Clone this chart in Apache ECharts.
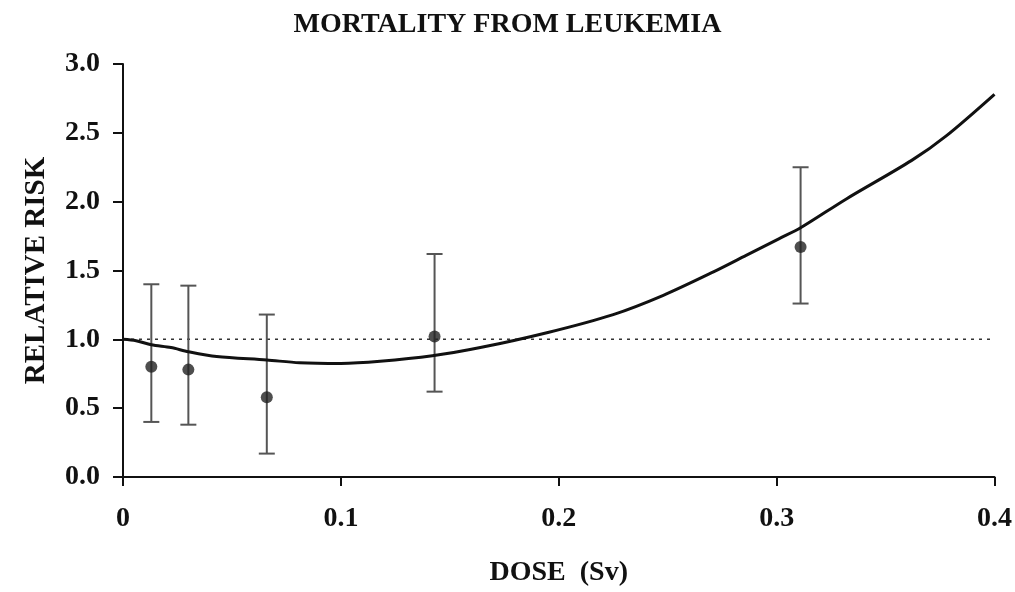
<!DOCTYPE html>
<html>
<head>
<meta charset="utf-8">
<title>Mortality from leukemia</title>
<script src="https://cdn.jsdelivr.net/npm/echarts@6/dist/echarts.min.js"></script>
<style>
* { margin:0; padding:0; }
body { background:#fff; }
#chart { width:1015px; height:592px; }
</style>
</head>
<body>
<div id="chart"></div>
<script>
// observed points with error bars
var doses = [0.013, 0.030, 0.066, 0.143, 0.311];
var relRisk = [0.80, 0.78, 0.58, 1.02, 1.67];
var lower = [0.40, 0.38, 0.17, 0.62, 1.26];
var upper = [1.40, 1.39, 1.18, 1.62, 2.25];

// fitted curve
var curveDose = [0, 0.006, 0.013, 0.022, 0.030, 0.043, 0.066, 0.081, 0.100, 0.118, 0.142, 0.164, 0.195, 0.225, 0.248, 0.271, 0.286, 0.301, 0.311, 0.332, 0.362, 0.378, 0.400];
var curveRisk = [1.00, 0.99, 0.96, 0.94, 0.91, 0.875, 0.85, 0.83, 0.825, 0.84, 0.88, 0.94, 1.05, 1.18, 1.32, 1.49, 1.61, 1.73, 1.81, 2.02, 2.30, 2.48, 2.78];

var xTicks = ['0', '0.1', '0.2', '0.3', '0.4'];

var serif = '"Liberation Serif", "DejaVu Serif", serif';

var chart = echarts.init(document.getElementById('chart'));

var points = doses.map(function (d, i) { return [d, relRisk[i]]; });
var bars = doses.map(function (d, i) { return [d, lower[i], upper[i]]; });
var curve = curveDose.map(function (d, i) { return [d, curveRisk[i]]; });

var option = {
    animation: false,
    title: {
        text: 'MORTALITY FROM LEUKEMIA',
        left: 'center',
        top: 6,
        textStyle: { fontFamily: serif, fontWeight: 'bold', fontSize: 28, color: '#111' }
    },
    grid: { left: 123, right: 20, top: 64, bottom: 112 },
    xAxis: {
        type: 'value',
        min: 0, max: 0.4, interval: 0.1,
        name: 'DOSE  (Sv)',
        nameLocation: 'middle',
        nameGap: 82,
        nameTextStyle: { fontFamily: serif, fontWeight: 'bold', fontSize: 28, color: '#111' },
        axisLine: { lineStyle: { color: '#111', width: 2 } },
        axisTick: { show: true, length: 9, lineStyle: { color: '#111', width: 2 } },
        axisLabel: {
            margin: 28,
            fontFamily: serif, fontWeight: 'bold', fontSize: 28, color: '#111',
            formatter: function (v) { return xTicks[Math.round(v * 10)]; }
        },
        splitLine: { show: false }
    },
    yAxis: {
        type: 'value',
        min: 0, max: 3, interval: 0.5,
        name: 'RELATIVE RISK',
        nameLocation: 'middle',
        nameGap: 72,
        nameTextStyle: { fontFamily: serif, fontWeight: 'bold', fontSize: 29, color: '#111' },
        axisLine: { show: true, lineStyle: { color: '#111', width: 2 } },
        axisTick: { show: true, length: 10, lineStyle: { color: '#111', width: 2 } },
        axisLabel: {
            margin: 23,
            fontFamily: serif, fontWeight: 'bold', fontSize: 28, color: '#111',
            formatter: function (v) { return v.toFixed(1); }
        },
        splitLine: { show: false }
    },
    series: [
        {
            // reference line at RR = 1
            type: 'line',
            data: [[0, 1], [0.4, 1]],
            symbol: 'none',
            lineStyle: { color: '#333', width: 1.5, type: [3, 5] },
            z: 1
        },
        {
            type: 'custom',
            data: bars,
            renderItem: function (params, api) {
                var x = api.value(0);
                var lo = api.coord([x, api.value(1)]);
                var hi = api.coord([x, api.value(2)]);
                var cap = 8;
                var st = { stroke: '#555', lineWidth: 2 };
                return {
                    type: 'group',
                    children: [
                        { type: 'line', shape: { x1: lo[0], y1: lo[1], x2: hi[0], y2: hi[1] }, style: st },
                        { type: 'line', shape: { x1: lo[0] - cap, y1: lo[1], x2: lo[0] + cap, y2: lo[1] }, style: st },
                        { type: 'line', shape: { x1: hi[0] - cap, y1: hi[1], x2: hi[0] + cap, y2: hi[1] }, style: st }
                    ]
                };
            },
            z: 2
        },
        {
            type: 'line',
            data: curve,
            smooth: 0.3,
            symbol: 'none',
            lineStyle: { color: '#111', width: 3 },
            z: 3
        },
        {
            type: 'scatter',
            data: points,
            symbolSize: 12,
            itemStyle: { color: '#222' },
            z: 4
        }
    ]
};

chart.setOption(option);
</script>
</body>
</html>
